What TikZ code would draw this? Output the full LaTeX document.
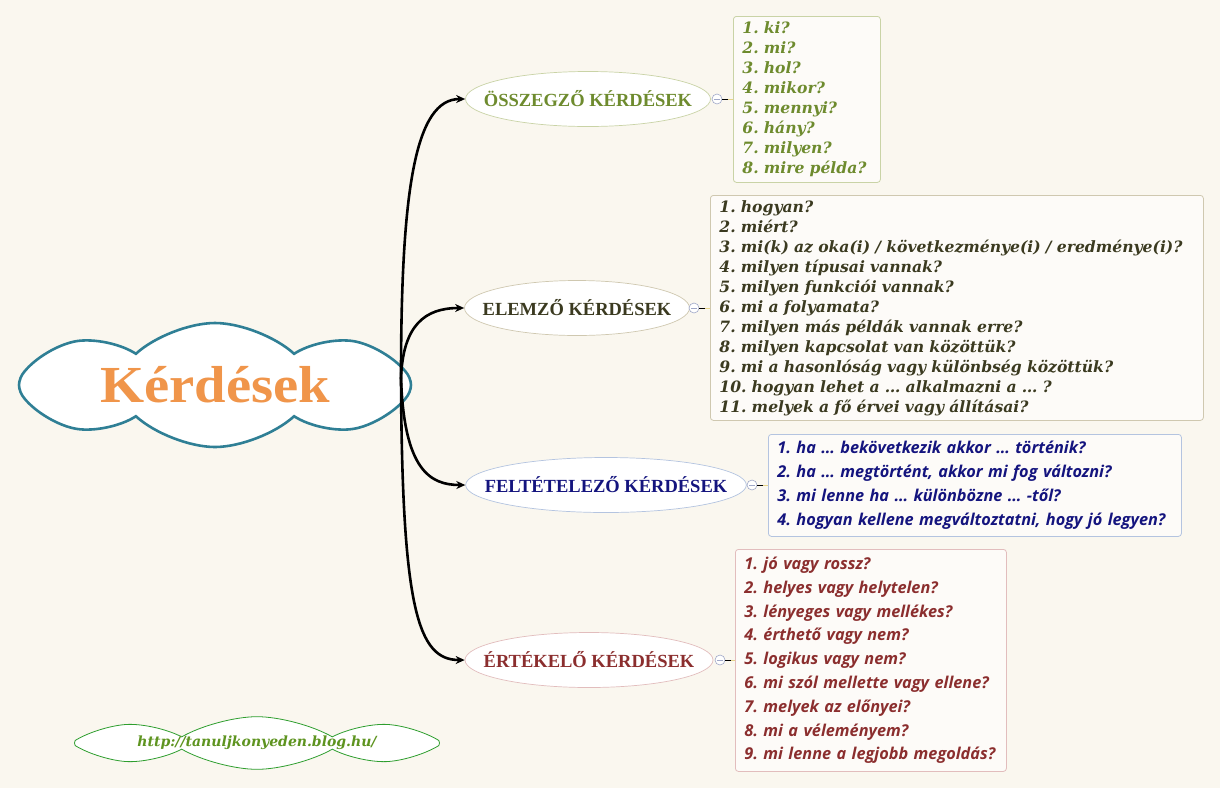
\documentclass[tikz,border=0pt]{standalone}
\usepackage{fontspec}
\usepackage{xcolor}
\newfontfamily\kdserif{DejaVu Serif}
\newfontfamily\kdsans{Open Sans}
\newfontfamily\kdtimes{Liberation Serif}
\newfontfamily\kdtimeswide{Liberation Serif}[FakeStretch=1.09]
\definecolor{kdbg}{HTML}{FAF7EF}
\definecolor{kdteal}{HTML}{2F7F95}
\definecolor{kdorange}{HTML}{F0954A}
\definecolor{kdgreen}{HTML}{6E8B2E}
\definecolor{kdgreenln}{HTML}{C9D3A6}
\definecolor{kdolive}{HTML}{3B3A20}
\definecolor{kdoliveln}{HTML}{CFC8B0}
\definecolor{kdnavy}{HTML}{14147E}
\definecolor{kdnavyln}{HTML}{B4C4E0}
\definecolor{kdred}{HTML}{8B2E2E}
\definecolor{kdredln}{HTML}{E2BDBD}
\definecolor{kdtoggle}{HTML}{A0A8C8}
\definecolor{kdlink}{HTML}{E6D48A}
\definecolor{kdurl}{HTML}{2E9E2E}
\definecolor{kdurltxt}{HTML}{5E9420}
\usepackage{tikz}
\usetikzlibrary{arrows.meta,shapes.geometric,shapes.symbols}
\frenchspacing
\tikzset{
  kdroot/.style  ={cloud, cloud puffs=8, cloud puff arc=85, cloud ignores aspect,
                   draw=kdteal, fill=white, line width=2.6pt, inner sep=0pt,
                   minimum width=392, minimum height=124,
                   font=\kdtimeswide\bfseries\fontsize{52}{60}\selectfont, text=kdorange},
  kdbranch/.style={ellipse, fill=white, line width=0.7pt, inner ysep=0pt, inner xsep=-22pt,
                   minimum height=55, font=\kdtimes\bfseries\fontsize{18.5}{20}\selectfont},
  kdlist/.style  ={rectangle, rounded corners=3pt, fill=white, fill opacity=.6,
                   text opacity=1, line width=0.8pt, anchor=north west, align=left,
                   inner xsep=9pt, inner ysep=0pt},
  kdserifl/.style={font=\kdserif\bfseries\itshape\fontsize{15.6}{20}\selectfont},
  kdsansl/.style ={font=\kdsans\bfseries\itshape\fontsize{16.3}{23.8}\selectfont},
  kdtog/.style   ={circle, draw=kdtoggle, fill=white, line width=0.6pt,
                   minimum size=10, inner sep=0pt},
  kdarrow/.style ={-{Stealth[length=9pt,width=8pt]}, line width=2.6pt, draw=black},
}

\begin{document}
\begin{tikzpicture}[x=1pt,y=-1pt]
  \fill[kdbg] (0,0) rectangle (1220,788);
  \useasboundingbox (0,0) rectangle (1220,788);
  \node[kdroot] (root) at (215,385) {Kérdések};
  \coordinate (hub) at (401,378);
  \node[kdbranch, draw=kdgreenln, text=kdgreen, minimum width=245] (b1) at (588,99) {ÖSSZEGZŐ KÉRDÉSEK};
  \node[kdbranch, draw=kdoliveln, text=kdolive, minimum width=225] (b2) at (577,308) {ELEMZŐ KÉRDÉSEK};
  \node[kdbranch, draw=kdnavyln, text=kdnavy, minimum width=278] (b3) at (606,485) {FELTÉTELEZŐ KÉRDÉSEK};
  \node[kdbranch, draw=kdredln, text=kdred, minimum width=248] (b4) at (589,660) {ÉRTÉKELŐ KÉRDÉSEK};
  \draw[kdarrow] (hub) .. controls (401,190) and (415,99) .. (b1.west);
  \draw[kdarrow] (hub) .. controls (403,325) and (425,308) .. (b2.west);
  \draw[kdarrow] (hub) .. controls (404,470) and (430,485) .. (b3.west);
  \draw[kdarrow] (hub) .. controls (402,610) and (418,660) .. (b4.west);
  \node[kdlist, kdserifl, draw=kdgreenln, text=kdgreen, text width=129, minimum height=166] (l1) at (733,16)
       {1. ki?\\2. mi?\\3. hol?\\4. mikor?\\5. mennyi?\\6. hány?\\7. milyen?\\8. mire példa?};
  \node[kdlist, kdserifl, draw=kdoliveln, text=kdolive, text width=475, minimum height=225] (l2) at (710,195)
       {1. hogyan?\\2. miért?\\3. mi(k) az oka(i) / következménye(i) / eredménye(i)?\\
        4. milyen típusai vannak?\\5. milyen funkciói vannak?\\6. mi a folyamata?\\
        7. milyen más példák vannak erre?\\8. milyen kapcsolat van közöttük?\\
        9. mi a hasonlóság vagy különbség közöttük?\\10. hogyan lehet a … alkalmazni a … ?\\
        11. melyek a fő érvei vagy állításai?};
  \node[kdlist, kdsansl, draw=kdnavyln, text=kdnavy, text width=395, minimum height=102] (l3) at (768,434)
       {1. ha … bekövetkezik akkor … történik?\\2. ha … megtörtént, akkor mi fog változni?\\
        3. mi lenne ha … különbözne … -től?\\4. hogyan kellene megváltoztatni, hogy jó legyen?};
  \node[kdlist, kdsansl, draw=kdredln, text=kdred, text width=253, minimum height=222] (l4) at (735,549)
       {1. jó vagy rossz?\\2. helyes vagy helytelen?\\3. lényeges vagy mellékes?\\
        4. érthető vagy nem?\\5. logikus vagy nem?\\6. mi szól mellette vagy ellene?\\
        7. melyek az előnyei?\\8. mi a véleményem?\\9. mi lenne a legjobb megoldás?};
  \foreach \i/\x/\y in {1/717/99,2/694/308,3/752/485,4/720/660}{
    \node[kdtog] (t\i) at (\x,\y) {};
    \draw[kdtoggle, line width=0.6pt] ([xshift=-3]t\i.center) -- ([xshift=3]t\i.center);
    \draw[black, line width=0.8pt] (t\i.east) -- ++(6,0) coordinate (k\i);
    \draw[kdlink, line width=0.8pt] (k\i) -- (k\i -| l\i.west);
  }
  \node[cloud, cloud puffs=8, cloud puff arc=60, cloud ignores aspect, draw=kdurl, fill=white,
        line width=0.8pt, minimum width=365, minimum height=34, inner sep=0pt,
        font=\kdserif\bfseries\itshape\fontsize{14}{16}\selectfont, text=kdurltxt]
       (url) at (257,743) {http://tanuljkonyeden.blog.hu/};
\end{tikzpicture}
\end{document}
